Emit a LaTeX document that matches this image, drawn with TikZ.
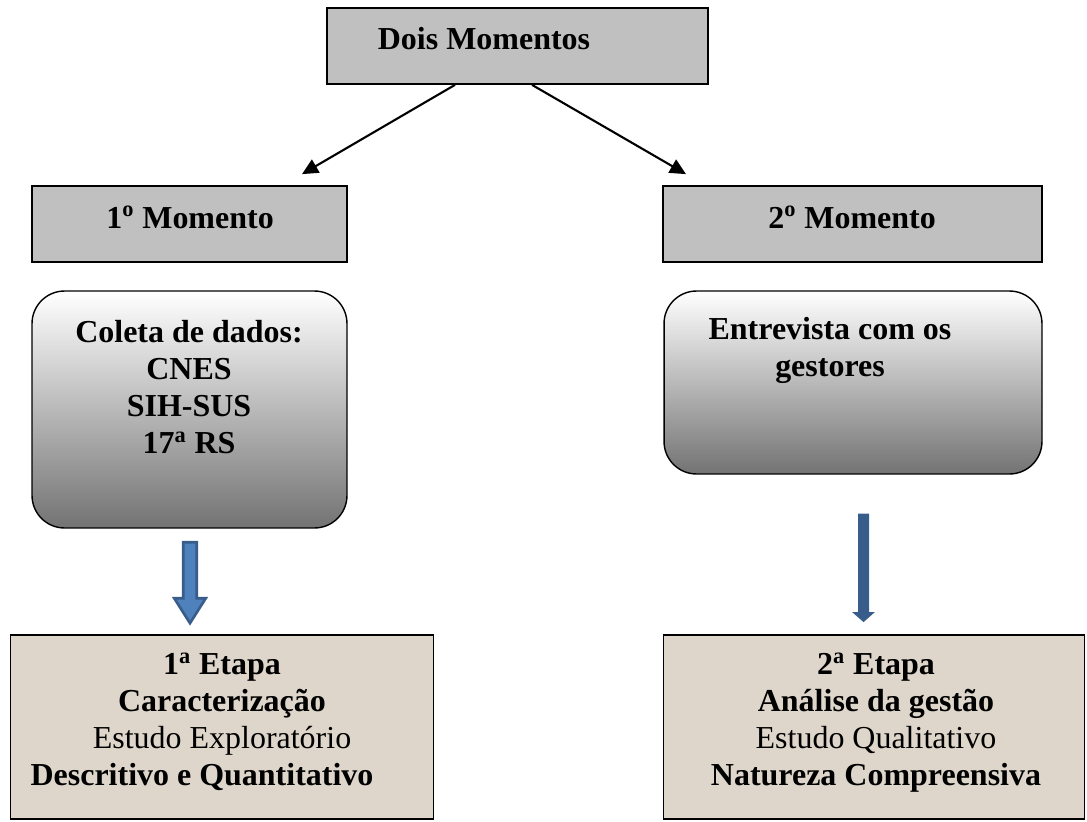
\documentclass[tikz,border=0pt]{standalone}
\usepackage{fontspec}
\setmainfont{Liberation Serif}
\usepackage{tikz}
\usetikzlibrary{arrows.meta, positioning, calc}
\definecolor{boxgray}{RGB}{192,192,192}
\definecolor{paper}{RGB}{222,214,202}
\definecolor{arrowblue}{RGB}{79,129,189}
\definecolor{arrowedge}{RGB}{56,93,138}
\tikzset{momento/.style={rectangle,draw,line width=1pt,fill=boxgray,inner sep=0pt},
         fonte/.style={rectangle,draw,line width=0.8pt,rounded corners=0.65cm,top color=white,bottom color=black!55,inner sep=0pt},
         etapa/.style={rectangle,draw,line width=1pt,fill=paper,inner sep=0pt},
         txt/.style={inner sep=0pt,align=center,font=\fontsize{18.2pt}{21pt}\selectfont\bfseries},
         arrow/.style={-{Triangle[length=0.32cm,width=0.3cm]},line width=1.2pt},
         bluearrow/.style={-{Triangle[length=0.2cm,width=0.44cm]},line width=0.22cm,arrowedge},
         fatarrow/.style={fill=arrowblue,draw=arrowedge,line width=1.5pt,line join=miter}}
\begin{document}
\begin{tikzpicture}[x=0.02cm,y=-0.02cm]
    \useasboundingbox (0,0) rectangle (1087,821);
    % Moments
    \node (dois) [momento, minimum width=7.62cm, minimum height=1.52cm] at (517.5,46) {};
    \node (mom1) [momento, minimum width=6.3cm, minimum height=1.52cm] at (189.5,224) {};
    \node (mom2) [momento, minimum width=7.58cm, minimum height=1.52cm] at (852.5,224) {};
    % Data sources
    \node (coleta) [fonte, minimum width=6.3cm, minimum height=4.74cm] at (189.5,409.5) {};
    \node (entrev) [fonte, minimum width=7.56cm, minimum height=3.66cm] at (853,382.5) {};
    % Stages
    \node (etapa1) [etapa, minimum width=8.46cm, minimum height=3.68cm] at (222,727) {};
    \node (etapa2) [etapa, minimum width=8.42cm, minimum height=3.68cm] at (874,727) {};
    % Texts
    \node (doist) [txt, anchor=base] at (484,50) {Dois Momentos};
    \node (mom1t) [txt, anchor=base] at (190,228) {1\textsuperscript{o} Momento};
    \node (mom2t) [txt, anchor=base] at (852,228) {2\textsuperscript{o} Momento};
    \node (coletat) [txt, anchor=north] at (189,320) {Coleta de dados:\\CNES\\SIH-SUS\\17\textsuperscript{a} RS};
    \node (entrevt) [txt, anchor=north] at (830,317) {Entrevista com os\\gestores};
    \node (etapa1t) [txt, anchor=north] at (222,653) {1\textsuperscript{a} Etapa\\Caracterização\\{\mdseries Estudo Exploratório}\hspace*{0.32cm}\\Descritivo e Quantitativo\hspace*{0.8cm}};
    \node (etapa2t) [txt, anchor=north] at (876,653) {2\textsuperscript{a} Etapa\\Análise da gestão\\{\mdseries Estudo Qualitativo}\\Natureza Compreensiva};
    % Arrows
    \draw[arrow] ($(dois.south)+(-62.5,0)$) -- ($(mom1.north)+(112.5,-11)$);
    \draw[arrow] ($(dois.south)+(14.5,0)$) -- ($(mom2.north)+(-166.5,-11)$);
    \coordinate (f) at ($(coleta.south)+(0.5,13.5)$);
    \begin{scope}[shift={(f)}]
      \filldraw[fatarrow] (-6.8,0) -- (6.8,0) -- (6.8,56) -- (15.8,56) -- (0,81) -- (-15.8,56) -- (-6.8,56) -- cycle;
    \end{scope}
    \draw[bluearrow] ($(entrev.south)+(10.5,39)$) -- ($(etapa2.north)+(-10.5,-12)$);
\end{tikzpicture}
\end{document}
